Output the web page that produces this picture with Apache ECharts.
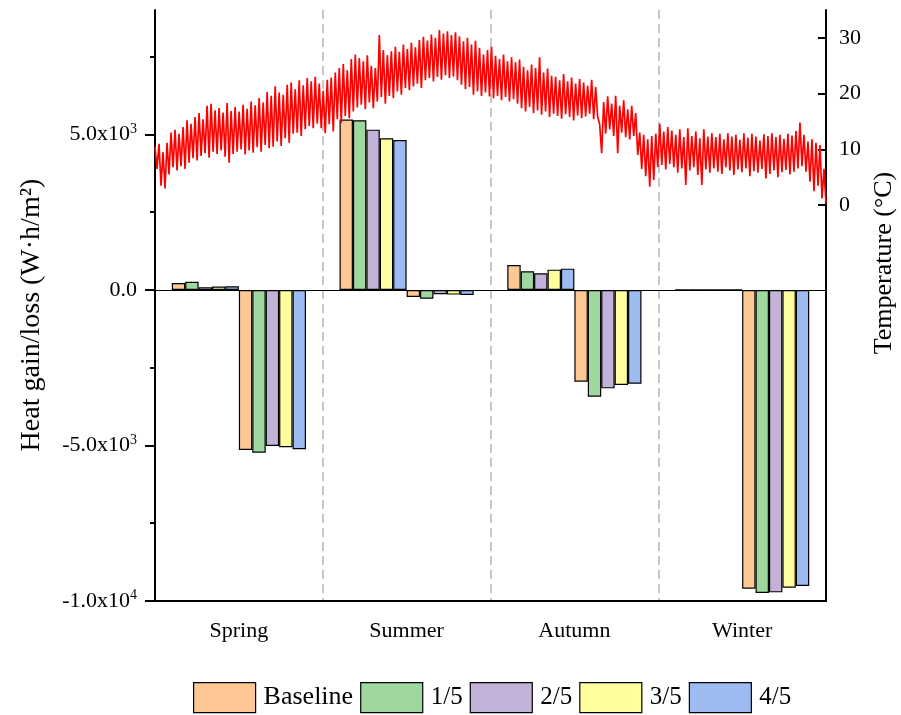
<!DOCTYPE html>
<html>
<head>
<meta charset="utf-8">
<script src="https://cdn.jsdelivr.net/npm/echarts@6/dist/echarts.min.js"></script>
<style>html,body{margin:0;padding:0;background:#fff}#c{width:901px;height:715px}</style>
</head>
<body>
<div id="c"></div>
<script>
// ---------- data ----------
const seasons = ['Spring', 'Summer', 'Autumn', 'Winter'];
const scenarios = ['Baseline', '1/5', '2/5', '3/5', '4/5'];
// heat gain per season, one array per scenario (W·h/m2)
const gainBaseline = [220, 5476, 800, 0];
const gain1_5      = [260, 5455, 600, 0];
const gain2_5      = [90, 5154, 535, 0];
const gain3_5      = [110, 4875, 653, 0];
const gain4_5      = [120, 4823, 685, 0];
// heat loss per season
const lossBaseline = [-5145, -225, -2950, -9605];
const loss1_5      = [-5230, -280, -3430, -9743];
const loss2_5      = [-5016, -140, -3163, -9722];
const loss3_5      = [-5058, -150, -3055, -9572];
const loss4_5      = [-5123, -160, -3013, -9518];
// left axis tick labels / right axis tick labels
const leftTicks = [-10000, -5000, 0, 5000];
const leftMinorTicks = [-7500, -2500, 2500, 7500];
const rightTicks = [0, 10, 20, 30];
// outdoor temperature over the year (°C): daily-cycle upper and lower readings
const tempHigh = [
 10.5, 11, 9.5, 11.2, 13,
 13.5, 12.8, 14, 15.2, 14.6,
 15.8, 16.5, 15.4, 17.8, 18.2,
 17, 17.4, 16.6, 18.3, 16.9,
 17.6, 16.8, 18, 17.3, 18.6,
 17.9, 19.2, 18.4, 20.3, 19.6,
 21.3, 20.2, 19.8, 21.6, 22,
 20.8, 22.4, 21.5, 22.8, 22.2,
 23, 21.8, 20.5, 22.5, 22.9,
 23.8, 24.6, 25.3, 24.2, 26.2,
 27, 26.4, 25.8, 26.9, 25,
 24.6, 30.5, 27.8, 26.9, 27.6,
 28.4, 27.5, 28.8, 28, 29.1,
 28.3, 29.6, 30.2, 29.5, 30.6,
 30, 31.4, 30.8, 31.2, 30.5,
 31, 30.3, 29.4, 30, 28.8,
 29.5, 28.2, 27, 27.8, 28.4,
 26.8, 26.2, 27, 25.8, 26.5,
 25.6, 26.1, 24.8, 24.2, 25.2,
 24.6, 26.5, 23.8, 24.5, 23.2,
 23, 22.4, 23.5, 22.2, 22.9,
 21.8, 22.6, 22, 21.4, 22.5,
 21.2, 14.5, 18.5, 19.5, 18.2,
 19.6, 17.8, 18.8, 17.2, 17.8,
 16.5, 13, 12.6, 11.8, 12.4,
 12.8, 14.6, 13.2, 14, 13.4,
 12.6, 13.6, 12.2, 13.8, 12.4,
 13.2, 12, 13.6, 12.3, 12.9,
 12.2, 12.8, 11.8, 12.9, 12.3,
 12.6, 11.7, 12.9, 12.1, 12.8,
 12.3, 11.6, 12.7, 12.4, 12.9,
 12.2, 12.6, 11.9, 12.8, 12.5,
 13.3, 14.8, 12.6, 11.4, 11.8,
 11.2, 10.8, 6.5
];
const tempLow = [
 6.5, 3.5, 3, 5.5, 6.8,
 6.2, 7, 6.5, 7.6, 8.4,
 8, 8.8, 9.3, 8.5, 9.6,
 9.2, 9.8, 8.7, 7.6, 9.2,
 9.6, 10, 9.1, 9.8, 9.4,
 10.4, 9.6, 10.8, 10.2, 10.5,
 11.4, 10.6, 12, 11.2, 12.8,
 13, 12.4, 13.6, 14.2, 13.8,
 14.6, 13.8, 12.9, 14.5, 13.2,
 15.4, 14.8, 16, 15.6, 16.8,
 17.5, 18, 17.2, 18.4, 17.4,
 18.6, 19.4, 18.2, 19.6, 19.2,
 20.4, 19.8, 21, 20.6, 21.3,
 21.8, 21, 22.4, 22.8, 22.2,
 23, 22.5, 23.3, 22.8, 23.1,
 22.4, 21.6, 20.8, 21.2, 19.8,
 20.4, 19.6, 20.2, 19.5, 19.2,
 19.6, 18.8, 19.4, 18.6, 19,
 18.2, 17.4, 16.8, 17.6, 16.5,
 17, 16.2, 16.8, 15.8, 16.4,
 16, 15.5, 16.3, 15.8, 15.2,
 16.1, 15.6, 15.9, 16.4, 15.4,
 15.8, 9.3, 12.8, 13.6, 12.4,
 9.3, 13, 12.2, 11.8, 12.4,
 9, 6.5, 5.2, 3.3, 4.5,
 6.8, 7.2, 6.4, 7.4, 6.8,
 5.8, 6.6, 3.6, 6.2, 6.8,
 5.4, 3.6, 6.4, 5.8, 6.6,
 6, 5.6, 6.8, 6.2, 5.4,
 6.4, 5.9, 6.6, 5.2, 6.1,
 5.8, 6.5, 4.8, 5.6, 6.2,
 5, 5.9, 6.3, 5.5, 6,
 6.6, 7, 6, 4.2, 2.5,
 3.5, 1.2, 0.3
];

// ---------- styling ----------
const FONT = '"Liberation Serif", "Times New Roman", serif';
const colors = ['#FDC894', '#9FD89F', '#C2B2D7', '#FFFE9E', '#9DBBF1'];
const gains = [gainBaseline, gain1_5, gain2_5, gain3_5, gain4_5];
const losses = [lossBaseline, loss1_5, loss2_5, loss3_5, loss4_5];

const temperature = [];
for (let i = 0; i < tempHigh.length; i++) { temperature.push(tempHigh[i], tempLow[i]); }

function sciLabel(v) {
  if (leftTicks.indexOf(v) < 0) return '';
  if (v === 0) return '{n|0.0}';
  const neg = v < 0, a = Math.abs(v);
  const e = Math.floor(Math.log10(a));
  const m = (a / Math.pow(10, e)).toFixed(1);
  return '{n|' + (neg ? '-' : '') + m + 'x10}{s|' + e + '}';
}

const barStyle = (c) => ({ color: c, borderColor: '#000', borderWidth: 1.2 });
const series = [];
scenarios.forEach((name, k) => {
  const s = { name, type: 'bar', xAxisIndex: 0, yAxisIndex: 0, data: gains[k], barGap: '0%', barCategoryGap: '20%', itemStyle: barStyle(colors[k]), silent: true };
  if (k === 0) {
    s.markLine = { silent: true, symbol: 'none', label: { show: false }, lineStyle: { color: '#000', width: 1.2, type: 'solid' }, data: [{ yAxis: 0 }] };
  }
  series.push(s);
});
scenarios.forEach((name, k) => {
  series.push({ name, type: 'bar', xAxisIndex: 0, yAxisIndex: 0, data: losses[k], barGap: '0%', barCategoryGap: '20%', itemStyle: barStyle(colors[k]), silent: true });
});
series.push({ name: 'Temperature', type: 'line', xAxisIndex: 1, yAxisIndex: 2, data: temperature, symbol: 'none', lineStyle: { color: '#ff0000', width: 1.7 }, z: 5, silent: true });

const tickAxis = (pos, mn, mx, vals, len, inside) => ({
  type: 'value', position: pos, min: mn, max: mx,
  axisLine: { show: false }, axisLabel: { show: false }, splitLine: { show: false },
  axisTick: { show: true, inside: !!inside, length: len, customValues: vals, lineStyle: { color: '#000', width: 2 } }
});

const chart = echarts.init(document.getElementById('c'), null, { renderer: 'canvas' });
chart.setOption({
  animation: false,
  backgroundColor: '#fff',
  textStyle: { fontFamily: FONT },
  grid: { left: 155, right: 75, top: 10, bottom: 114, containLabel: false },
  legend: {
    data: scenarios, left: 193, top: 682, padding: 0, itemWidth: 62, itemHeight: 30, itemGap: 7, icon: 'rect',
    formatter: (name) => name === 'Baseline' ? '{w|' + name + '}' : name,
    textStyle: { fontFamily: FONT, fontSize: 25, color: '#000', padding: [0, 0, 0, 3],
      rich: { w: { fontFamily: FONT, fontSize: 26, color: '#000', width: 100 } } },
    itemStyle: { borderColor: '#000', borderWidth: 1.2 }
  },
  xAxis: [
    { type: 'category', data: seasons, position: 'bottom',
      axisLine: { onZero: false, lineStyle: { color: '#000', width: 2 } },
      axisTick: { alignWithLabel: true, length: 6, lineStyle: { color: '#000', width: 2 } },
      axisLabel: { fontFamily: FONT, fontSize: 22, color: '#000', margin: 19 },
      splitLine: { show: true, lineStyle: { color: '#c8c8c8', width: 2, type: [9, 5] } } },
    { type: 'category', data: temperature.map((_, i) => i), boundaryGap: false, show: false, position: 'top' }
  ],
  yAxis: [
    { type: 'value', position: 'left', min: -10000, max: 9000, interval: 5000,
      axisLine: { show: true, onZero: false, lineStyle: { color: '#000', width: 2 } },
      axisTick: { show: true, length: 5, customValues: leftMinorTicks, lineStyle: { color: '#000', width: 2 } },
      axisLabel: { margin: 18, color: '#000', formatter: sciLabel, showMaxLabel: false,
        rich: { n: { fontFamily: FONT, fontSize: 22, color: '#000' }, s: { fontFamily: FONT, fontSize: 14, color: '#000', padding: [0, 0, 11, 0] } } },
      splitLine: { show: false } },
    tickAxis('left', -10000, 9000, leftTicks, 10, false),
    { type: 'value', position: 'right', min: -71, max: 35,
      axisLine: { show: true, onZero: false, lineStyle: { color: '#000', width: 2 } },
      axisTick: { show: false },
      axisLabel: { customValues: rightTicks, margin: 13, fontFamily: FONT, fontSize: 22, color: '#000' },
      splitLine: { show: false } },
    tickAxis('right', -71, 35, rightTicks, 8, true)
  ],
  graphic: [
    { type: 'text', x: 32, y: 315, rotation: Math.PI / 2, silent: true,
      style: { text: 'Heat gain/loss (W·h/m²)', font: '28px ' + FONT, fill: '#000', textAlign: 'center', textVerticalAlign: 'middle' } },
    { type: 'text', x: 884, y: 263, rotation: Math.PI / 2, silent: true,
      style: { text: 'Temperature (°C)', font: '26px ' + FONT, fill: '#000', textAlign: 'center', textVerticalAlign: 'middle' } }
  ],
  series
});
</script>
</body>
</html>
